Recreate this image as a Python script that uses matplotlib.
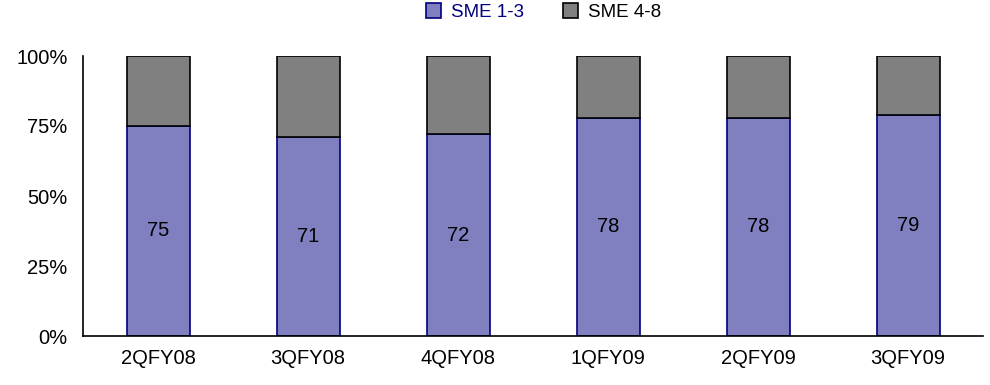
import numpy as np
import matplotlib.pyplot as plt

plt.rcParams['font.family'] = ['Liberation Sans', 'DejaVu Sans']

quarters = ['2QFY08', '3QFY08', '4QFY08', '1QFY09', '2QFY09', '3QFY09']
sme_1_3 = [75, 71, 72, 78, 78, 79]
sme_4_8 = [25, 29, 28, 22, 22, 21]

fig = plt.figure(figsize=(9.9, 3.85), dpi=100)
ax = fig.add_axes([83 / 990, 1 - 336 / 385, 900 / 990, 280 / 385])

x = np.arange(len(quarters))
w = 0.42
b1 = ax.bar(x, sme_1_3, w, color='#8080C0', edgecolor='#000080', linewidth=1.2, label='SME 1-3')
b2 = ax.bar(x, sme_4_8, w, bottom=sme_1_3, color='#808080', edgecolor='black', linewidth=1.2, label='SME 4-8')

# value of the lower segment, centred inside it
for xi, v in zip(x, sme_1_3):
    ax.text(xi, v / 2, str(v), ha='center', va='center', fontsize=14.5)

ax.set_xlim(-0.5, len(quarters) - 0.5)
ax.set_ylim(0, 100)
ax.set_yticks([0, 25, 50, 75, 100])
ax.set_yticklabels(['0%', '25%', '50%', '75%', '100%'])
ax.set_xticks(x)
ax.set_xticklabels(quarters)
ax.tick_params(length=0, labelsize=14.5)
ax.tick_params(axis='y', pad=11)
ax.tick_params(axis='x', pad=9)
for s in ['top', 'right']:
    ax.spines[s].set_visible(False)
ax.spines['left'].set_linewidth(1.2)
ax.spines['bottom'].set_linewidth(1.2)

leg = fig.legend(handles=[b1, b2], loc='upper center', bbox_to_anchor=(0.549, 1.035), ncol=2,
                 frameon=False, fontsize=13.5, handlelength=0.8, handleheight=0.8,
                 handletextpad=0.5, columnspacing=2.1)
leg.get_texts()[0].set_color('#000080')

fig.savefig('out.png', dpi=100)
